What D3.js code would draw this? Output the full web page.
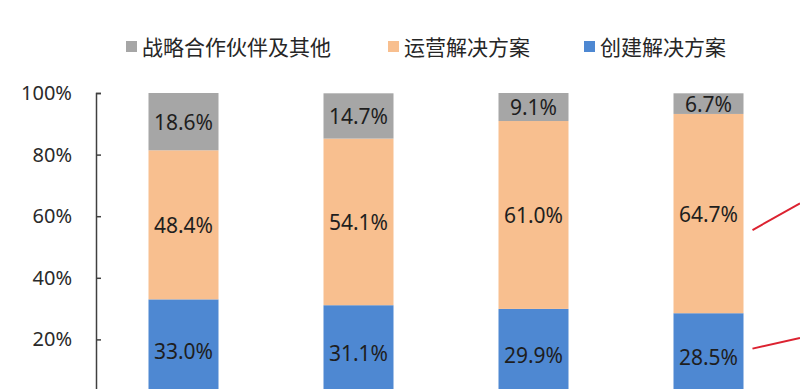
<!DOCTYPE html>
<html>
<head>
<meta charset="utf-8">
<script src="https://cdn.jsdelivr.net/npm/d3@7"></script>
<style>
  html, body { margin: 0; padding: 0; background: #fff; overflow: hidden; }
  svg { display: block; font-family: "Noto Sans", "Noto Sans CJK SC", sans-serif; }
</style>
</head>
<body>
<div id="chart"></div>
<script>
// four bars, share of revenue by business line (x labels are cut off in the source)
const categories = ["1", "2", "3", "4"];
const build = [0.330, 0.311, 0.299, 0.285];      // 创建解决方案
const operate = [0.484, 0.541, 0.610, 0.647];    // 运营解决方案
const partner = [0.186, 0.147, 0.091, 0.067];    // 战略合作伙伴及其他
const seriesNames = ["战略合作伙伴及其他", "运营解决方案", "创建解决方案"];
const yTicks = [0, 0.2, 0.4, 0.6, 0.8, 1.0];

const width = 800, height = 389;
const colors = { build: "#4e88d2", operate: "#f8bf8f", partner: "#a6a6a6" };

const svg = d3.select("#chart").append("svg")
  .attr("width", width)
  .attr("height", height);

const x = d3.scaleBand()
  .domain(categories)
  .range([96, 796])
  .paddingInner(0.6)
  .paddingOuter(0.3);

// 0% sits just below the visible area
const y = d3.scaleLinear().domain([0, 1]).range([401, 93]);

const rows = categories.map((c, i) => ({ cat: c, build: build[i], operate: operate[i], partner: partner[i] }));
const keys = ["build", "operate", "partner"];
const stacked = d3.stack().keys(keys)(rows);

// bars
const layers = svg.append("g").attr("class", "bars")
  .selectAll("g")
  .data(stacked)
  .join("g")
  .attr("fill", d => colors[d.key]);

layers.selectAll("rect")
  .data(d => d)
  .join("rect")
  .attr("x", d => x(d.data.cat))
  .attr("y", d => y(d[1]))
  .attr("width", x.bandwidth())
  .attr("height", d => y(d[0]) - y(d[1]));

// value labels
layers.selectAll("text")
  .data(d => d.map(v => ({ v, key: d.key })))
  .join("text")
  .attr("x", d => x(d.v.data.cat) + x.bandwidth() / 2)
  .attr("y", d => (y(d.v[0]) + y(d.v[1])) / 2 + 1)
  .attr("dy", "0.35em")
  .attr("text-anchor", "middle")
  .attr("fill", "#1e1e1e")
  .style("font-size", "21px")
  .text(d => (d.v.data[d.key] * 100).toFixed(1) + "%");

// y axis
const yAxis = svg.append("g")
  .attr("transform", "translate(96,0)")
  .call(d3.axisRight(y).tickValues(yTicks).tickFormat(d3.format(".0%")).tickSize(5).tickSizeOuter(5));
yAxis.select(".domain").attr("stroke", "#404040").attr("stroke-width", 1.5);
yAxis.selectAll(".tick line").attr("stroke", "#404040").attr("stroke-width", 1.5);
yAxis.selectAll(".tick text")
  .attr("x", -24)
  .attr("text-anchor", "end")
  .attr("fill", "#2a2a2a")
  .style("font-size", "20px")
  .style("font-family", "\"Noto Sans\", sans-serif");

// legend
const legendItems = [
  { label: seriesNames[0], color: colors.partner, x: 126 },
  { label: seriesNames[1], color: colors.operate, x: 388 },
  { label: seriesNames[2], color: colors.build, x: 584 }
];
const legend = svg.append("g").attr("class", "legend");
legendItems.forEach(d => {
  const g = legend.append("g").attr("transform", `translate(${d.x},47)`);
  g.append("rect").attr("x", 0).attr("y", -6).attr("width", 11).attr("height", 11).attr("fill", d.color);
  g.append("text")
    .attr("x", 16).attr("y", 0).attr("dy", "0.36em")
    .attr("fill", "#262626")
    .style("font-size", "21px")
    .style("font-family", "\"Noto Sans CJK SC\", sans-serif")
    .text(d.label);
});

// red annotation lines leaving the last bar to the right
const lastCat = categories[categories.length - 1];
const notes = [
  { from: 0.555, to: 0.642 },
  { from: 0.170, to: 0.205 }
];
svg.append("g").selectAll("line")
  .data(notes)
  .join("line")
  .attr("x1", x(lastCat) + x.bandwidth() + 9)
  .attr("x2", width)
  .attr("y1", d => y(d.from))
  .attr("y2", d => y(d.to))
  .attr("stroke", "#dc2230")
  .attr("stroke-width", 2);
</script>
</body>
</html>
